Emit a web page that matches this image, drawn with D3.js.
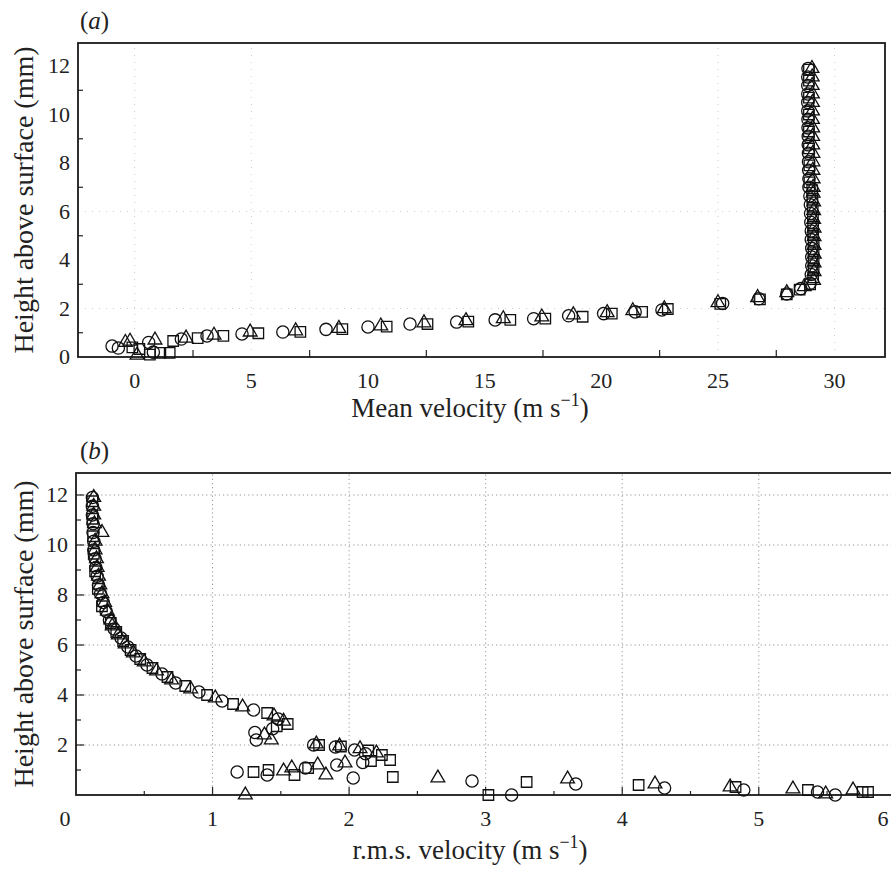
<!DOCTYPE html>
<html>
<head>
<meta charset="utf-8">
<script src="https://cdn.jsdelivr.net/npm/d3@7"></script>
<style>
  body { margin: 0; background: #fff; }
  text { font-family: "Liberation Serif", "Times New Roman", serif; fill: #222; }
</style>
</head>
<body>
<svg id="fig"></svg>
<script>
// ---- panel (a): mean velocity (m/s) vs height (mm), [velocity, height]
var meanCircle = [
  [-0.97,0.45],[-0.7,0.37],[0.6,0.6],[0.8,0.2],[2.0,0.74],[3.1,0.87],[4.6,0.95],[6.35,1.03],
  [8.2,1.14],[10.0,1.24],[11.8,1.36],[13.8,1.44],[15.45,1.53],[17.1,1.58],[18.6,1.7],[20.1,1.79],
  [21.45,1.86],[22.6,1.94],[25.2,2.21],[26.75,2.4],[27.95,2.6],[28.55,2.82],
  [28.95,3.04],[29.0,3.4],[29.02,3.76],[29.02,4.12],[29.02,4.48],[29.0,4.84],[29.0,5.2],[28.98,5.56],
  [28.97,5.92],[28.96,6.28],[28.94,6.64],
  [28.9,7.0],[28.9,7.35],[28.89,7.7],[28.88,8.05],[28.88,8.4],[28.87,8.75],[28.87,9.1],[28.86,9.45],
  [28.86,9.8],[28.85,10.15],[28.85,10.5],[28.85,10.85],[28.85,11.2],[28.85,11.55],[28.86,11.9]
];
var meanTriangle = [
  [-0.4,0.6],[-0.2,0.65],[0.1,0.08],[0.87,0.7],[2.2,0.78],[3.4,0.9],[4.95,1.03],[6.9,1.08],
  [8.75,1.18],[10.55,1.28],[12.4,1.41],[14.2,1.5],[15.8,1.58],[17.45,1.65],[18.8,1.74],[20.25,1.83],
  [21.35,1.91],[22.7,1.99],[25.0,2.24],[26.7,2.45],[27.95,2.65],[28.7,2.9],
  [29.1,3.16],[29.12,3.52],[29.12,3.88],[29.13,4.24],[29.12,4.6],[29.12,4.96],[29.12,5.32],[29.1,5.68],
  [29.1,6.04],[29.1,6.4],[29.08,6.76],
  [29.08,7.0],[29.08,7.35],[29.07,7.7],[29.07,8.05],[29.07,8.4],[29.06,8.75],[29.06,9.1],[29.06,9.45],
  [29.05,9.8],[29.05,10.15],[29.05,10.5],[29.05,10.85],[29.04,11.2],[29.04,11.55],[29.03,11.9]
];
var meanSquare = [
  [-0.1,0.4],[0.2,0.33],[0.65,0.1],[1.1,0.17],[1.5,0.17],[1.65,0.66],[2.7,0.78],[3.8,0.87],
  [5.3,0.98],[7.1,1.04],[8.9,1.15],[10.8,1.25],[12.55,1.36],[14.3,1.46],[16.1,1.53],[17.6,1.58],
  [19.2,1.66],[20.45,1.79],[21.75,1.86],[22.85,1.98],[25.1,2.19],[26.8,2.38],[27.95,2.58],[28.5,2.78],
  [28.95,3.0],[29.08,3.28],[29.1,3.64],[29.1,4.0],[29.1,4.36],[29.1,4.72],[29.08,5.08],[29.08,5.44],
  [29.07,5.8],[29.06,6.16],[29.05,6.52],[29.04,6.88],
  [28.92,7.2],[28.92,7.9],[28.9,8.6],[28.9,9.3],[28.9,10.0],[28.9,10.7],[28.9,11.4],[28.9,11.85]
];

// ---- panel (b): r.m.s. velocity (m/s) vs height (mm), [rms, height]
var rmsCircle = [
  [0.12,11.9],[0.12,11.55],[0.12,11.2],[0.125,10.85],[0.125,10.5],[0.13,10.15],[0.13,9.8],[0.14,9.45],
  [0.145,9.1],[0.155,8.75],[0.165,8.4],[0.18,8.05],[0.2,7.7],[0.22,7.35],[0.245,7.0],
  [0.28,6.64],[0.33,6.28],[0.38,5.92],[0.44,5.56],[0.52,5.2],[0.63,4.84],[0.73,4.48],[0.9,4.12],
  [1.07,3.76],[1.3,3.4],[1.48,3.04],
  [1.31,2.5],[1.32,2.2],[1.44,2.65],[1.74,2.0],[1.9,1.92],[2.04,1.8],[2.12,1.65],[2.1,1.3],
  [1.18,0.92],[1.4,0.8],[1.68,1.08],[1.91,1.2],[2.03,0.68],[2.9,0.56],[3.19,0.0],[3.66,0.44],
  [4.31,0.28],[4.89,0.2],[5.43,0.12],[5.56,0.0]
];
var rmsTriangle = [
  [0.13,11.9],[0.13,11.55],[0.13,11.2],[0.135,10.85],[0.19,10.5],[0.14,10.15],[0.14,9.8],[0.15,9.45],
  [0.155,9.1],[0.165,8.75],[0.175,8.4],[0.19,8.05],[0.21,7.7],[0.23,7.35],[0.255,7.0],
  [0.265,6.76],[0.31,6.4],[0.36,6.04],[0.42,5.68],[0.5,5.32],[0.59,4.96],[0.7,4.6],[0.84,4.24],
  [1.02,3.88],[1.22,3.52],[1.45,3.16],
  [1.38,2.4],[1.43,2.2],[1.52,2.95],[1.76,2.04],[1.93,1.96],[2.08,1.85],[2.2,1.68],
  [1.52,0.96],[1.58,1.08],[1.77,1.2],[1.83,0.8],[1.97,1.28],[2.65,0.68],[1.24,0.0],[3.6,0.64],
  [4.24,0.44],[4.79,0.32],[5.25,0.24],[5.49,0.04],[5.69,0.2]
];
var rmsSquare = [
  [0.12,11.75],[0.12,11.05],[0.125,10.35],[0.13,9.65],[0.14,8.95],[0.16,8.25],[0.19,7.55],
  [0.255,6.88],[0.295,6.52],[0.345,6.16],[0.4,5.8],[0.47,5.44],[0.56,5.08],[0.67,4.72],[0.8,4.36],
  [0.96,4.0],[1.15,3.64],[1.4,3.28],
  [1.47,2.75],[1.55,2.84],[1.78,2.0],[1.94,1.94],[2.14,1.78],[2.24,1.6],[2.3,1.4],[2.16,1.36],
  [1.3,0.92],[1.41,1.0],[1.6,0.8],[1.7,1.08],[2.32,0.72],[3.02,0.0],[3.3,0.52],[4.12,0.4],
  [4.83,0.32],[5.36,0.2],[5.76,0.12],[5.8,0.12]
];

var meanTicks = [0, 5, 10, 15, 20, 25, 30];
var rmsTicks = [0, 1, 2, 3, 4, 5, 6];
var heightTicksA = [0, 2, 4, 6, 8, 10, 12];
var heightTicksB = [2, 4, 6, 8, 10, 12];

var width = 891, height = 869;
var svg = d3.select("#fig").attr("width", width).attr("height", height)
  .attr("font-family", "Liberation Serif, Times New Roman, serif");
svg.append("rect").attr("width", width).attr("height", height).attr("fill", "#fff");

var symbols = {
  circle: d3.symbol(d3.symbolCircle, 118)(),
  triangle: d3.symbol(d3.symbolTriangle, 82)(),
  square: d3.symbol(d3.symbolSquare, 110)()
};

function drawPanel(cfg) {
  var g = svg.append("g");
  var x = d3.scaleLinear().domain(cfg.xDomain).range(cfg.xRange);
  var y = d3.scaleLinear().domain(cfg.yDomain).range(cfg.yRange);
  var x0 = cfg.xRange[0], x1 = cfg.xRange[1], y0 = cfg.yRange[0], y1 = cfg.yRange[1];

  // dotted grid
  g.selectAll(null).data(cfg.xGrid).join("line")
    .attr("x1", d => x(d)).attr("x2", d => x(d)).attr("y1", y0).attr("y2", y1)
    .attr("stroke", cfg.gridColor).attr("stroke-width", 0.9).attr("stroke-dasharray", cfg.gridDash);
  g.selectAll(null).data(cfg.yGrid).join("line")
    .attr("y1", d => y(d)).attr("y2", d => y(d)).attr("x1", x0).attr("x2", x1)
    .attr("stroke", cfg.gridColor).attr("stroke-width", 0.9).attr("stroke-dasharray", cfg.gridDash);

  // ticks, drawn inward
  g.selectAll(null).data(cfg.xMinor).join("line")
    .attr("x1", d => x(d)).attr("x2", d => x(d)).attr("y1", y0).attr("y2", y0 - cfg.minorLen)
    .attr("stroke", "#222").attr("stroke-width", 1.2);
  g.selectAll(null).data(cfg.xMajor).join("line")
    .attr("x1", d => x(d)).attr("x2", d => x(d)).attr("y1", y0).attr("y2", y0 - cfg.majorLen)
    .attr("stroke", "#222").attr("stroke-width", 1.2);
  g.selectAll(null).data(cfg.yMinor).join("line")
    .attr("y1", d => y(d)).attr("y2", d => y(d)).attr("x1", x0).attr("x2", x0 + 5)
    .attr("stroke", "#222").attr("stroke-width", 1.2);
  g.selectAll(null).data(cfg.yMajor).join("line")
    .attr("y1", d => y(d)).attr("y2", d => y(d)).attr("x1", x0).attr("x2", x0 + cfg.majorLen)
    .attr("stroke", "#222").attr("stroke-width", 1.2);

  // frame
  g.append("rect").attr("x", x0).attr("y", y1).attr("width", x1 - x0).attr("height", y0 - y1)
    .attr("fill", "none").attr("stroke", "#1a1a1a").attr("stroke-width", 1.8);

  // tick labels
  g.selectAll(null).data(cfg.xLabels).join("text")
    .attr("x", d => Math.min(x(d) + (d === 0 ? cfg.zeroShift : 0), width - 8))
    .attr("y", y0 + 31)
    .attr("text-anchor", "middle").style("font-size", "22px").text(d => d);
  g.selectAll(null).data(cfg.yLabels).join("text")
    .attr("x", x0 - 8).attr("y", d => y(d) + 7)
    .attr("text-anchor", "end").style("font-size", "22px").text(d => d);

  // markers
  var series = [[cfg.circles, "circle"], [cfg.triangles, "triangle"], [cfg.squares, "square"]];
  series.forEach(function (s) {
    g.selectAll(null).data(s[0]).join("path")
      .attr("d", symbols[s[1]])
      .attr("transform", d => "translate(" + x(d[0]) + "," + y(d[1]) + ")")
      .attr("fill", "none").attr("stroke", "#111").attr("stroke-width", 1.3);
  });

  // axis titles
  var xt = g.append("text").attr("x", cfg.titleX).attr("y", y0 + cfg.titleGap)
    .attr("text-anchor", "middle").style("font-size", "27px");
  xt.append("tspan").text(cfg.xTitle + " (m s");
  xt.append("tspan").attr("dy", -11).style("font-size", "18px").text("\u22121");
  xt.append("tspan").attr("dy", 11).text(")");

  g.append("text")
    .attr("transform", "translate(33," + ((y0 + y1) / 2) + ")rotate(-90)")
    .attr("text-anchor", "middle").style("font-size", "28px")
    .text("Height above surface (mm)");

  var pl = g.append("text").attr("x", 80).attr("y", y1 - cfg.labelGap).style("font-size", "25px");
  pl.append("tspan").text("(");
  pl.append("tspan").style("font-style", "italic").text(cfg.panel);
  pl.append("tspan").text(")");
}

drawPanel({
  panel: "a",
  xDomain: [-2.43, 32.16], xRange: [78, 885],
  yDomain: [0, 12.95], yRange: [357, 43],
  xGrid: [0, 5, 25, 30], yGrid: [2, 6],
  gridColor: "#c8c8c8", gridDash: "1,6",
  xMajor: [], xMinor: [2.5, 7.5, 12.5, 17.5, 22.5, 27.5],
  yMajor: [], yMinor: [1, 3, 5, 7, 9, 11],
  minorLen: 7, majorLen: 0,
  xLabels: meanTicks, yLabels: heightTicksA, zeroShift: 0,
  circles: meanCircle, triangles: meanTriangle, squares: meanSquare,
  xTitle: "Mean velocity", titleX: 470, titleGap: 60, labelGap: 14
});

drawPanel({
  panel: "b",
  xDomain: [0, 6.1], xRange: [76, 909],
  yDomain: [0, 12.88], yRange: [795, 473],
  xGrid: [1, 2, 3, 4, 5], yGrid: [2, 4, 6, 8, 10, 12],
  gridColor: "#8a8a8a", gridDash: "1.2,3",
  xMajor: [1, 2, 3, 4, 5], xMinor: [0.5, 1.5, 2.5, 3.5, 4.5, 5.5],
  yMajor: [2, 4, 6, 8, 10, 12], yMinor: [1, 3, 5, 7, 9, 11],
  minorLen: 4, majorLen: 8,
  xLabels: rmsTicks, yLabels: heightTicksB, zeroShift: -11,
  circles: rmsCircle, triangles: rmsTriangle, squares: rmsSquare,
  xTitle: "r.m.s. velocity", titleX: 470, titleGap: 64, labelGap: 14
});
</script>
</body>
</html>
